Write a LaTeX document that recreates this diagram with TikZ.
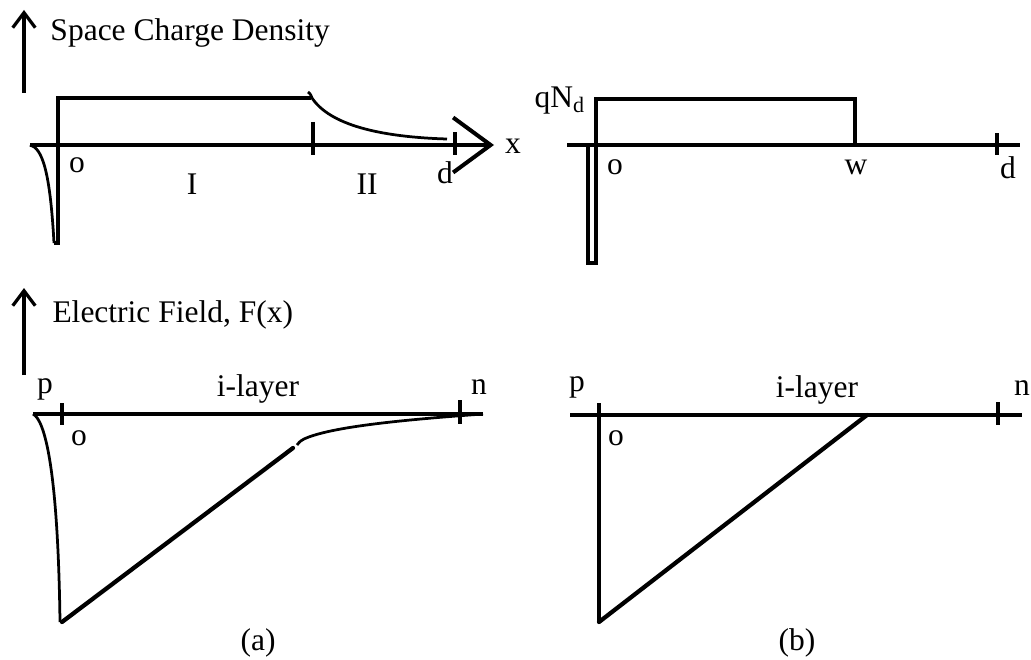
\documentclass[tikz,border=0pt]{standalone}
\usepackage{fontspec}
\setmainfont{Liberation Serif}
\usepackage{tikz}
\usetikzlibrary{arrows.meta}

\begin{document}
\begin{tikzpicture}[
    x=0.4pt, y=-0.4pt,
    font=\fontsize{12.6}{15}\selectfont,
    lbl/.style={inner sep=0pt},
    axisline/.style={line width=1.4pt},
    curveline/.style={line width=1.1pt},
    slopeline/.style={line width=1.7pt, line cap=round},
    upaxis/.style={-{Straight Barb[length=6pt, width=9pt, line width=1.3pt]}, line width=1.3pt},
    xaxis/.style={-{Straight Barb[length=15pt, width=22pt, line width=1.6pt]}, line width=1.4pt}
]
\useasboundingbox (0,0) rectangle (1031,659);

% (a) space charge
\coordinate (ya0) at (24,93);
\coordinate (ya1) at (24,10);
\draw[upaxis] (ya0) -- (ya1);
\node[lbl, anchor=west] (rholabel) at (50,33) {Space Charge Density};

\coordinate (xa0) at (30,145);
\coordinate (xa1) at (494,145);
\draw[xaxis] (xa0) -- (xa1);
\node[lbl] (xlabel) at (513,146) {x};

\draw[axisline] (54,243) -- (58,243) -- (58,98) -- (311,98);
\draw[curveline] (54,243) .. controls (50,170) and (42,148) .. (30,145);
\draw[curveline] (308,92) .. controls (311,94) and (311,96) .. (312,98)
    .. controls (330,125) and (380,137) .. (447,139);
\draw[axisline] (313,122) -- (313,155);
\draw[axisline] (455,132) -- (455,155);

\node[lbl] (oa) at (77,165) {o};
\node[lbl] (regI) at (192,184) {I};
\node[lbl] (regII) at (367,184) {II};
\node[lbl] (da) at (445,173) {d};

% (b) space charge
\draw[axisline] (567,145) -- (1020,145);
\draw[axisline] (588,145) -- (588,263) -- (596,263) -- (596,99) -- (855,99) -- (855,145);
\draw[axisline] (997,133) -- (997,155);
\node[lbl, anchor=east] (qnd) at (586,101) {qN\textsubscript{d}};
\node[lbl] (ob) at (615,167) {o};
\node[lbl] (wb) at (856,167) {w};
\node[lbl] (db) at (1008,168) {d};

% (a) electric field
\coordinate (yf0) at (24,375);
\coordinate (yf1) at (24,288);
\draw[upaxis] (yf0) -- (yf1);
\node[lbl, anchor=west] (flabel) at (52,315) {Electric Field, F(x)};

\draw[axisline] (33,414) -- (483,414);
\draw[axisline] (62,403) -- (62,425);
\draw[axisline] (460,400) -- (460,424);
\draw[curveline] (33,414) .. controls (45,420) and (58,470) .. (60,622);
\draw[slopeline] (62,622) -- (293,448);
\draw[curveline] (297,445) .. controls (300,441) and (302,440) .. (304,439)
    .. controls (330,427) and (400,420) .. (483,414);

\node[lbl] (pa) at (45,389) {p};
\node[lbl] (ila) at (258,389) {i-layer};
\node[lbl] (na) at (479,387) {n};
\node[lbl] (ofa) at (79,438) {o};

% (b) electric field
\draw[axisline] (570,415) -- (1022,415);
\draw[axisline] (599,403) -- (599,622);
\draw[axisline] (998,402) -- (998,425);
\draw[slopeline] (599,622) -- (867,415);

\node[lbl] (pb) at (577,387) {p};
\node[lbl] (ilb) at (817,390) {i-layer};
\node[lbl] (nb) at (1022,388) {n};
\node[lbl] (ofb) at (616,438) {o};

\node[lbl] (capa) at (258,643) {(a)};
\node[lbl] (capb) at (797,643) {(b)};
\end{tikzpicture}
\end{document}
